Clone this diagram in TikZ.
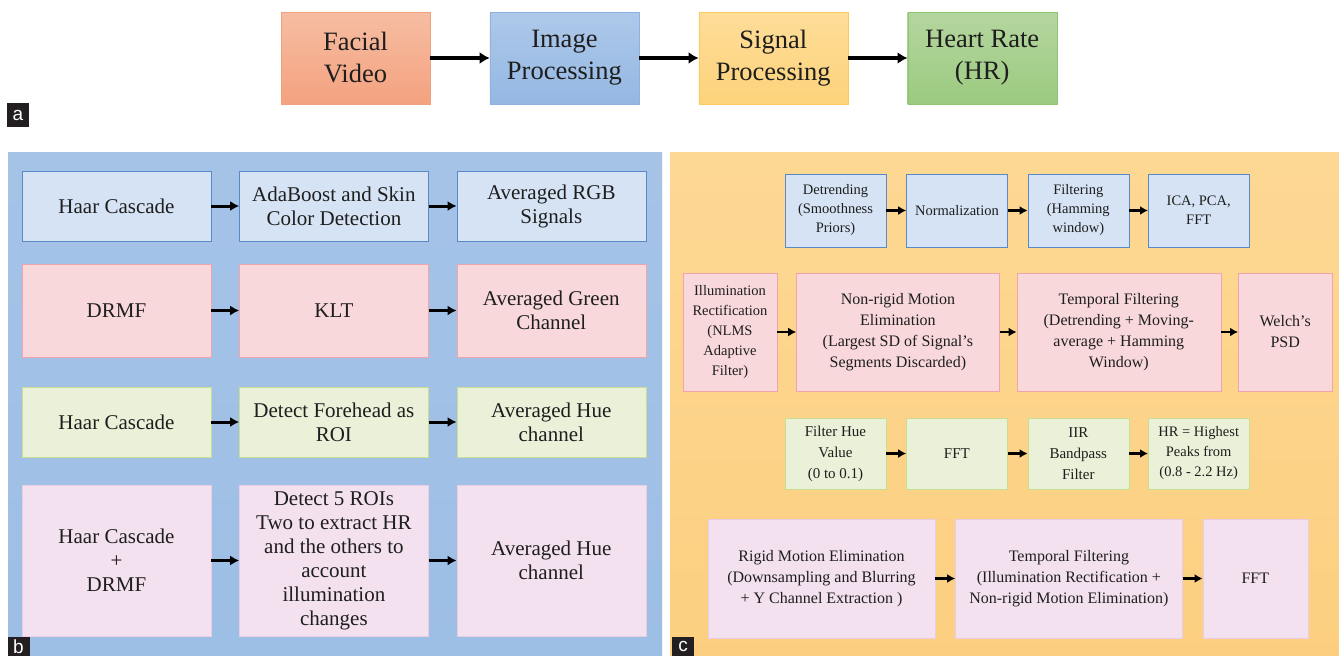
\documentclass[tikz,border=0pt]{standalone}
\usepackage{fontspec}
\setmainfont{Liberation Serif}
\setsansfont{Liberation Sans}
\usetikzlibrary{arrows.meta,positioning}
\definecolor{ink}{HTML}{1E1E1E}
\definecolor{tag}{HTML}{231F20}
\definecolor{bgb}{HTML}{A5C3E7}
\definecolor{bgbb}{HTML}{9DBEE5}
\definecolor{bgc}{HTML}{FDD894}
\definecolor{bgcb}{HTML}{FCCF80}
\definecolor{factop}{HTML}{F6BDA2}
\definecolor{facbot}{HTML}{F4A27F}
\definecolor{facline}{HTML}{F0A27E}
\definecolor{imgtop}{HTML}{AEC9EA}
\definecolor{imgbot}{HTML}{94B7E2}
\definecolor{imgline}{HTML}{8DB2E0}
\definecolor{sigtop}{HTML}{FEDD9A}
\definecolor{sigbot}{HTML}{FDD37A}
\definecolor{sigline}{HTML}{FCCB5E}
\definecolor{hrtop}{HTML}{B4D69F}
\definecolor{hrbot}{HTML}{9CCA80}
\definecolor{hrline}{HTML}{8FC471}
\definecolor{bluefill}{HTML}{D5E3F4}
\definecolor{blueline}{HTML}{5A8AC6}
\definecolor{pinkfill}{HTML}{F9D8DC}
\definecolor{pinkline}{HTML}{F2A4AC}
\definecolor{greenfill}{HTML}{EBF1D9}
\definecolor{greenline}{HTML}{C8DF8F}
\definecolor{lilacfill}{HTML}{F3E1EF}
\definecolor{lilacline}{HTML}{EBCDE3}

\begin{document}
\begin{tikzpicture}[x=1pt,y=-1pt,>=Latex,
 box/.style={inner sep=2pt,align=center,text=ink},
 top/.style={box,minimum width=149pt,minimum height=92pt,font=\fontsize{26.5}{32}\selectfont},
 bb/.style={box,minimum width=189pt,font=\fontsize{21}{24}\selectfont},
 cc/.style={box,font=\fontsize{16}{21}\selectfont},
 cs/.style={box,font=\fontsize{14.5}{19}\selectfont},
 blu/.style={draw=blueline,fill=bluefill},
 pnk/.style={draw=pinkline,fill=pinkfill},
 grn/.style={draw=greenline,fill=greenfill},
 lil/.style={draw=lilacline,fill=lilacfill},
 lab/.style={fill=tag,text=white,inner sep=0pt,minimum width=22pt,minimum height=19pt,font=\sffamily\fontsize{19}{19}\selectfont},
 art/.style={-{Latex[length=10pt,width=12pt]},line width=3.2pt,color=black},
 arb/.style={-{Latex[length=9pt,width=10pt]},line width=3pt,color=black},
 arc/.style={-{Latex[length=8pt,width=9pt]},line width=2.6pt,color=black}]
 \useasboundingbox (0,0) rectangle (1339,656);
 \fill[white] (0,0) rectangle (1339,656);
 % panel backgrounds
 \shade[top color=bgb,bottom color=bgbb] (8,152) rectangle (662,656);
 \shade[top color=bgc,bottom color=bgcb] (670,152) rectangle (1339,656);

 % a: overview
 \node[top,draw=facline,top color=factop,bottom color=facbot] (fv) at (355.5,58) {Facial\\Video};
 \node[top,right=59.5pt of fv,draw=imgline,top color=imgtop,bottom color=imgbot] (ip) {Image\\Processing};
 \node[top,right=59.5pt of ip,draw=sigline,top color=sigtop,bottom color=sigbot] (sp) {Signal\\Processing};
 \node[top,right=59.5pt of sp,draw=hrline,top color=hrtop,bottom color=hrbot] (hr) {Heart Rate\\(HR)};
 \foreach \x/\y in {fv/ip,ip/sp,sp/hr} \draw[art] (\x)--(\y);

 % b: image processing
 \node[bb,blu,minimum height=70pt] (b11) at (116.5,206) {Haar Cascade};
 \node[bb,blu,minimum height=70pt,right=28pt of b11] (b12) {AdaBoost and Skin\\Color Detection};
 \node[bb,blu,minimum height=70pt,right=28pt of b12] (b13) {Averaged RGB\\Signals};
 \node[bb,pnk,minimum height=93pt] (b21) at (116.5,310.5) {DRMF};
 \node[bb,pnk,minimum height=93pt,right=28pt of b21] (b22) {KLT};
 \node[bb,pnk,minimum height=93pt,right=28pt of b22] (b23) {Averaged Green\\Channel};
 \node[bb,grn,minimum height=70pt] (b31) at (116.5,422) {Haar Cascade};
 \node[bb,grn,minimum height=70pt,right=28pt of b31] (b32) {Detect Forehead as\\ROI};
 \node[bb,grn,minimum height=70pt,right=28pt of b32] (b33) {Averaged Hue\\channel};
 \node[bb,lil,minimum height=151pt] (b41) at (116.5,560.5) {Haar Cascade\\+\\DRMF};
 \node[bb,lil,minimum height=151pt,right=28pt of b41] (b42) {Detect 5 ROIs\\Two to extract HR\\and the others to\\account\\illumination\\changes};
 \node[bb,lil,minimum height=151pt,right=28pt of b42] (b43) {Averaged Hue\\channel};
 \foreach \r in {1,2,3,4} {
  \draw[arb] (b\r1)--(b\r2);
  \draw[arb] (b\r2)--(b\r3);
 }

 % c: signal processing
 \node[cs,blu,minimum width=101pt,minimum height=73pt] (c11) at (835.5,210.5) {Detrending\\(Smoothness\\Priors)};
 \node[cs,blu,minimum width=101pt,minimum height=73pt,right=20pt of c11] (c12) {Normalization};
 \node[cs,blu,minimum width=101pt,minimum height=73pt,right=20pt of c12] (c13) {Filtering\\(Hamming\\window)};
 \node[cs,blu,minimum width=101pt,minimum height=73pt,right=19pt of c13] (c14) {ICA, PCA,\\FFT};
 \node[cs,pnk,minimum width=94pt,minimum height=118pt,font=\fontsize{14.5}{20}\selectfont] (c21) at (730,332) {Illumination\\Rectification\\(NLMS\\Adaptive\\Filter)};
 \node[cc,pnk,minimum width=203pt,minimum height=118pt,right=19pt of c21] (c22) {Non-rigid Motion\\Elimination\\(Largest SD of Signal's\\Segments Discarded)};
 \node[cc,pnk,minimum width=204pt,minimum height=118pt,right=17pt of c22] (c23) {Temporal Filtering\\(Detrending + Moving-\\average + Hamming\\Window)};
 \node[cc,pnk,minimum width=94pt,minimum height=118pt,right=17pt of c23] (c24) {Welch's\\PSD};
 \node[cs,grn,minimum width=101pt,minimum height=71pt,font=\fontsize{15}{21}\selectfont] (c31) at (835.5,453.5) {Filter Hue\\Value\\(0 to 0.1)};
 \node[cs,grn,minimum width=101pt,minimum height=71pt,font=\fontsize{15}{21}\selectfont,right=20pt of c31] (c32) {FFT};
 \node[cs,grn,minimum width=101pt,minimum height=71pt,font=\fontsize{15}{21}\selectfont,right=20pt of c32] (c33) {IIR\\Bandpass\\Filter};
 \node[cs,grn,minimum width=101pt,minimum height=71pt,font=\fontsize{14.5}{20}\selectfont,right=19pt of c33] (c34) {HR = Highest\\Peaks from\\(0.8 - 2.2 Hz)};
 \node[cc,lil,minimum width=227pt,minimum height=119pt] (c41) at (821.5,578.5) {Rigid Motion Elimination\\(Downsampling and Blurring\\+ Y Channel Extraction )};
 \node[cc,lil,minimum width=227pt,minimum height=119pt,right=20pt of c41] (c42) {Temporal Filtering\\(Illumination Rectification +\\Non-rigid Motion Elimination)};
 \node[cc,lil,minimum width=105pt,minimum height=119pt,right=20pt of c42] (c43) {FFT};
 \foreach \x/\y in {c11/c12,c12/c13,c13/c14,c21/c22,c22/c23,c23/c24,c31/c32,c32/c33,c33/c34,c41/c42,c42/c43} \draw[arc] (\x)--(\y);

 % panel tags
 \node[lab,minimum height=24pt] (ta) at (18,115) {a};
 \node[lab] (tb) at (18.5,646.5) {b};
 \node[lab] (tc) at (683,646.5) {c};
\end{tikzpicture}
\end{document}
